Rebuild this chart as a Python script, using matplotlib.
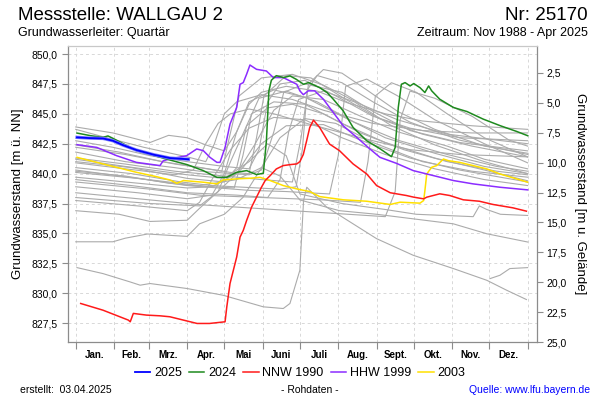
import matplotlib
matplotlib.use("Agg")
import matplotlib.pyplot as plt
from matplotlib.ticker import FixedLocator, NullFormatter

plt.rcParams['font.family'] = ['Liberation Sans', 'DejaVu Sans']

# ---------------- data ----------------
month_labels = ["Jan.", "Feb.", "Mrz.", "Apr.", "Mai", "Juni", "Juli", "Aug.", "Sept.", "Okt.", "Nov.", "Dez."]
month_starts = [0, 31, 59, 90, 120, 151, 181, 212, 243, 273, 304, 334, 365]
ground_level = 850.92

y2025_days = [1, 11, 22, 30, 38, 49, 63, 76, 91]
y2025_vals = [843.03, 842.97, 842.94, 842.75, 842.39, 841.97, 841.58, 841.30, 841.20]

y2024_days = [1, 12, 22, 26, 30, 49, 76, 90, 103, 114, 122, 130, 138, 146, 151.5, 154, 156, 158, 162, 168,
              173, 178, 184, 188, 197, 203, 208, 216, 224, 235, 246, 255, 258, 260.5, 263, 266, 270, 273,
              278, 282, 285, 287.5, 294, 305, 316, 329, 343, 356, 365]
y2024_vals = [843.39, 843.17, 843.03, 843.15, 842.95, 841.92, 841.14, 840.75, 840.25, 839.69, 839.69, 840.11,
              840.25, 839.92, 840.03, 842.75, 846.92, 847.81, 848.19, 848.03, 848.17, 847.89, 847.47, 847.61,
              847.19, 846.78, 846.22, 845.25, 843.86, 842.75, 842.06, 841.42, 842.19, 845.53, 847.47, 847.61,
              847.33, 847.53, 847.19, 846.78, 847.33, 846.92, 846.22, 845.53, 845.19, 844.56, 844.00, 843.53,
              843.17]

nnw1990_days = [4, 22, 42.5, 44, 46.5, 57, 68, 76, 87, 98, 108, 120.6, 122, 124.6, 127.3, 130, 132.7, 135.3,
                138, 142, 146, 150, 153, 157, 162, 167.6, 173, 178.5, 181, 183.8, 186.5, 189, 192, 197, 205,
                213, 224, 235, 243, 254, 267, 273, 281, 283.5, 294, 302, 313, 326, 337, 353, 364]
nnw1990_vals = [829.14, 828.58, 827.75, 827.61, 828.31, 828.17, 828.11, 828.03, 827.75, 827.47, 827.47, 827.61,
                828.86, 830.81, 831.92, 833.03, 834.69, 835.25, 836.08, 837.19, 838.03, 838.86, 839.42, 839.83,
                840.39, 840.67, 840.75, 840.81, 841.00, 841.60, 842.75, 843.86, 844.47, 843.86, 842.47, 841.92,
                840.81, 839.97, 839.00, 838.40, 838.17, 838.03, 837.89, 838.03, 838.31, 838.17, 837.81, 837.69,
                837.42, 837.14, 836.86]

hhw1999_days = [1, 17, 33, 49, 68, 70.7, 76, 89.6, 97.7, 103, 108.4, 114, 116.5, 120.6, 124.6, 130, 132.7,
                135.3, 138, 140.7, 146, 154, 159.6, 167.6, 173, 178.5, 181, 183.8, 187.8, 193, 200, 208, 216,
                227, 237.6, 245.7, 259, 272.6, 289, 305, 321, 342.6, 365]
hhw1999_vals = [842.42, 842.19, 841.50, 840.94, 840.67, 841.08, 841.22, 841.50, 842.06, 841.92, 841.36, 840.94,
                840.94, 842.19, 844.14, 845.53, 847.47, 847.61, 848.31, 849.08, 848.72, 848.58, 848.03, 848.03,
                847.75, 847.47, 846.92, 846.60, 846.92, 846.92, 846.22, 845.11, 844.00, 843.03, 842.06, 841.36,
                840.86, 840.25, 839.83, 839.42, 839.14, 838.86, 838.64]

y2003_days = [1, 22, 49, 65, 76, 81.6, 87, 103, 114, 119, 130, 140.7, 148.8, 157, 167.6, 178.5, 189, 197, 216,
              235, 254, 262, 278, 281, 282, 283.5, 287.5, 291.5, 297, 301, 310, 321, 332, 342.6, 356, 365]
y2003_vals = [841.36, 840.81, 840.11, 839.75, 839.47, 839.19, 839.42, 839.28, 839.14, 839.47, 839.56, 839.61,
              839.69, 839.42, 839.00, 838.72, 838.50, 838.08, 837.81, 837.69, 837.42, 837.61, 837.53, 837.75,
              838.58, 839.97, 840.53, 840.67, 841.22, 841.08, 840.94, 840.67, 840.39, 839.97, 839.56, 839.28]

# other years (grey), (day, value) pairs
gray_01 = [(0, 843.9), (30, 843.4), (60, 842.6), (75, 843.2), (90, 843.0), (105, 842.4), (120, 841.9), (130, 843.5), (140, 845.8), (150, 846.8), (170, 847.3), (195, 846.9), (220, 845.9), (250, 845.0), (280, 844.4), (320, 844.0), (365, 843.7)]
gray_02 = [(0, 843.7), (25, 843.0), (55, 842.2), (90, 841.4), (105, 841.0), (112, 842.5), (120, 845.0), (130, 846.0), (150, 846.6), (175, 846.2), (200, 845.3), (240, 844.2), (280, 843.6), (320, 843.4), (365, 843.4)]
gray_03 = [(0, 842.75), (30, 842.2), (60, 841.5), (90, 841.0), (120, 840.6), (140, 840.4), (148, 842.0), (155, 846.0), (165, 847.5), (185, 847.8), (210, 846.5), (240, 844.8), (270, 843.8), (310, 843.0), (365, 842.75)]
gray_04 = [(0, 842.2), (40, 841.6), (80, 840.8), (100, 840.5), (118, 840.2), (124, 843.0), (132, 846.5), (150, 848.0), (175, 848.3), (200, 847.4), (230, 845.8), (260, 844.5), (300, 843.3), (340, 842.8), (365, 842.5)]
gray_05 = [(0, 841.8), (40, 841.0), (80, 840.5), (100, 840.2), (140, 839.9), (150, 840.3), (160, 843.5), (168, 846.8), (185, 847.5), (215, 846.8), (240, 845.2), (270, 843.6), (310, 842.6), (365, 841.9)]
gray_06 = [(0, 840.9), (40, 840.4), (80, 839.9), (95, 840.3), (105, 842.5), (115, 844.2), (125, 845.0), (140, 845.4), (160, 845.0), (190, 844.1), (230, 843.0), (270, 842.0), (310, 841.6), (365, 841.4)]
gray_07 = [(0, 840.5), (45, 840.0), (85, 839.3), (110, 839.0), (165, 838.7), (178, 838.9), (183, 842.0), (187, 847.0), (195, 848.2), (215, 847.6), (240, 846.0), (270, 844.3), (310, 842.8), (365, 841.6)]
gray_08 = [(0, 840.1), (50, 839.6), (90, 839.0), (140, 838.6), (170, 838.5), (205, 838.3), (212, 841.5), (218, 847.3), (235, 847.9), (260, 846.5), (290, 844.5), (330, 842.5), (365, 840.9)]
gray_09 = [(0, 839.7), (40, 839.3), (90, 838.8), (110, 838.9), (130, 840.0), (145, 842.5), (160, 845.3), (175, 846.5), (200, 846.2), (230, 844.8), (260, 843.5), (300, 842.3), (330, 841.2), (365, 840.4)]
gray_10 = [(0, 839.3), (60, 838.7), (100, 838.2), (150, 838.0), (200, 837.8), (230, 837.6), (236, 841.0), (242, 846.5), (255, 847.6), (275, 846.8), (300, 845.0), (330, 843.0), (365, 841.4)]
gray_11 = [(0, 838.9), (50, 838.4), (90, 837.9), (110, 838.2), (120, 840.0), (130, 843.5), (140, 846.0), (160, 847.0), (185, 846.4), (215, 844.8), (250, 843.0), (290, 841.7), (330, 840.6), (365, 840.0)]
gray_12 = [(0, 838.4), (50, 837.9), (100, 837.4), (160, 837.0), (250, 836.4), (258, 838.5), (262, 844.5), (270, 846.9), (290, 846.3), (320, 844.8), (350, 842.8), (365, 842.3)]
gray_13 = [(0, 838.0), (60, 837.5), (100, 837.3), (115, 838.5), (125, 841.0), (138, 844.0), (155, 845.5), (175, 845.8), (200, 845.0), (230, 843.4), (265, 842.0), (300, 841.0), (340, 840.2), (365, 839.9)]
gray_14 = [(0, 837.75), (50, 837.3), (90, 836.9), (100, 837.6), (110, 839.5), (125, 842.0), (140, 843.8), (160, 844.7), (185, 844.5), (215, 843.0), (250, 841.6), (290, 840.4), (330, 839.5), (365, 839.0)]
gray_15 = [(0, 836.9), (35, 836.6), (60, 836.0), (90, 836.1), (100, 837.1), (115, 838.5), (135, 840.5), (150, 842.5), (170, 844.0), (200, 844.1), (230, 842.8), (270, 841.3), (310, 840.3), (365, 839.3)]
gray_16 = [(0, 834.3), (30, 834.3), (40, 834.6), (58, 834.95), (90, 834.75), (100, 835.8), (120, 836.6), (135, 838.0), (150, 840.5), (165, 843.0), (185, 844.6), (210, 844.2), (240, 842.6), (280, 841.0), (320, 840.2), (365, 839.7)]
gray_17 = [(0, 840.3), (50, 839.6), (100, 839.0), (130, 839.5), (150, 840.5), (165, 839.8), (181, 837.8), (213, 836.9), (243, 836.6), (305, 835.8), (332, 834.97), (365, 834.28)]
gray_18 = [(0, 841.2), (40, 840.6), (90, 839.9), (120, 839.6), (140, 841.0), (155, 842.5), (170, 841.5), (181, 838.3), (215, 837.5), (250, 837.0), (275, 836.6), (321, 836.4), (326, 837.3), (332, 837.0), (343, 836.6), (365, 836.5)]
gray_19 = [(334.6, 831.22), (342.6, 831.5), (350.6, 832.06), (365, 832.14)]
gray_20 = [(1, 832.14), (22, 831.64), (44, 830.94), (52, 830.67), (60, 830.81), (90, 830.39), (119, 829.83), (151.5, 828.86), (167.6, 828.72), (173, 829.14), (181, 831.92), (184, 837.75), (186.6, 838.86), (202.7, 837.19), (243, 834.56), (272.6, 833.17), (305, 832.06), (332, 831.08), (348, 830.25), (364, 829.47)]
gray_21 = [(0, 841.3), (40, 840.8), (80, 840.2), (110, 839.9), (150, 839.5), (175, 839.3), (182, 843.0), (188, 847.5), (200, 848.7), (215, 848.4), (235, 847.0), (260, 845.2), (290, 843.7), (330, 842.3), (365, 841.7)]
gray_22 = [(0, 842.4), (35, 841.8), (70, 841.0), (95, 840.6), (125, 840.1), (140, 840.0), (146, 843.0), (152, 846.5), (170, 848.2), (190, 848.0), (215, 846.4), (245, 844.6), (280, 843.3), (320, 842.3), (365, 841.4)]
gray_23 = [(0, 841.0), (45, 840.5), (90, 839.6), (120, 839.3), (130, 840.5), (138, 844.0), (148, 846.3), (170, 846.9), (195, 846.0), (225, 844.3), (260, 842.8), (300, 841.6), (340, 840.6), (365, 840.2)]
gray_24 = [(0, 840.2), (40, 839.8), (75, 839.2), (95, 839.0), (128, 838.8), (135, 841.5), (142, 845.0), (160, 846.0), (185, 845.8), (215, 844.2), (250, 842.6), (290, 841.3), (330, 840.3), (365, 839.4)]
gray_25 = [(0, 839.5), (45, 839.0), (90, 838.4), (130, 838.2), (155, 838.0), (165, 839.5), (172, 843.5), (180, 846.2), (200, 846.9), (225, 846.0), (255, 844.0), (290, 842.4), (330, 841.0), (365, 840.0)]
gray_lines = [gray_01, gray_02, gray_03, gray_04, gray_05, gray_06, gray_07, gray_08, gray_09, gray_10,
              gray_11, gray_12, gray_13, gray_14, gray_15, gray_16, gray_17, gray_18, gray_19, gray_20,
              gray_21, gray_22, gray_23, gray_24, gray_25]

left_ticks = [827.5, 830.0, 832.5, 835.0, 837.5, 840.0, 842.5, 845.0, 847.5, 850.0]
right_ticks = [2.5, 5.0, 7.5, 10.0, 12.5, 15.0, 17.5, 20.0, 22.5, 25.0]

# ---------------- figure ----------------
W, H = 600, 400
fig = plt.figure(figsize=(6, 4), dpi=100)
fig.patch.set_facecolor('white')

def fx(px):
    return px / W

def fy(py):
    return 1 - py / H

ax = fig.add_axes([fx(67.7), fy(342), fx(536.7) - fx(67.7), fy(46) - fy(342)])
ymin, ymax = 825.92, 850.67
ax.set_xlim(-6.5, 372.3)
ax.set_ylim(ymin, ymax)

grid_kw = dict(color='#d8d8d8', linestyle=(0, (3, 3)), linewidth=0.7, zorder=0)
for v in left_ticks:
    ax.axhline(v, **grid_kw)
for d in month_starts:
    ax.axvline(d, **grid_kw)

for g in gray_lines:
    ax.plot([p[0] for p in g], [p[1] for p in g], color='#ababab', lw=0.8, zorder=2)

h_2003, = ax.plot(y2003_days, y2003_vals, color='#ffe000', lw=1.1, zorder=3, label='2003')
h_1999, = ax.plot(hhw1999_days, hhw1999_vals, color='#8b2cff', lw=1.1, zorder=3, label='HHW 1999')
h_1990, = ax.plot(nnw1990_days, nnw1990_vals, color='#ff1a1a', lw=1.1, zorder=3, label='NNW 1990')
h_2024, = ax.plot(y2024_days, y2024_vals, color='#1e8a1e', lw=1.1, zorder=4, label='2024')
ax.plot(y2025_days, y2025_vals, color='#7f7fff', lw=2.4, zorder=5)
h_2025, = ax.plot(y2025_days, y2025_vals, color='#0000ff', lw=1.3, zorder=6, label='2025')

# axes styling
for s in ax.spines.values():
    s.set_color('#8c8c8c')
    s.set_linewidth(0.9)
ax.spines['top'].set_color('#c8c8c8')

ax.yaxis.set_major_locator(FixedLocator(left_ticks))
ax.set_yticklabels([f"{v:.1f}".replace('.', ',') for v in left_ticks])
ax.tick_params(axis='y', direction='out', length=4, width=0.8, color='#8c8c8c', labelsize=7.5, pad=3)

ax.xaxis.set_major_locator(FixedLocator(month_starts))
ax.xaxis.set_major_formatter(NullFormatter())
centers = [(month_starts[i] + month_starts[i + 1]) / 2 for i in range(12)]
ax.xaxis.set_minor_locator(FixedLocator(centers))
ax.set_xticklabels(month_labels, minor=True)
ax.tick_params(axis='x', which='major', direction='out', length=5, width=0.8, color='#8c8c8c')
ax.tick_params(axis='x', which='minor', length=0, labelsize=7, pad=6)
for lab in ax.get_xticklabels(minor=True):
    lab.set_fontweight('bold')

ax2 = ax.twinx()
ax2.set_ylim(ground_level - ymin, ground_level - ymax)
ax2.yaxis.set_major_locator(FixedLocator(right_ticks))
ax2.set_yticklabels([f"{v:.1f}".replace('.', ',') for v in right_ticks])
ax2.tick_params(axis='y', direction='out', length=4, width=0.8, color='#8c8c8c', labelsize=7.5, pad=3)
for s in ax2.spines.values():
    s.set_visible(False)

ax.set_ylabel("Grundwasserstand [m ü. NN]", fontsize=9.5, labelpad=6)
ax2.set_ylabel("Grundwasserstand [m u. Gelände]", fontsize=9.5, rotation=270, labelpad=14)

# titles
fig.text(fx(18), fy(15), "Messstelle: WALLGAU 2", fontsize=13.5, ha='left', va='center')
fig.text(fx(588), fy(15), "Nr: 25170", fontsize=13.5, ha='right', va='center')
fig.text(fx(18), fy(33), "Grundwasserleiter: Quartär", fontsize=9, ha='left', va='center')
fig.text(fx(588), fy(33), "Zeitraum: Nov 1988 - Apr 2025", fontsize=9, ha='right', va='center')

# legend
fig.legend(handles=[h_2025, h_2024, h_1990, h_1999, h_2003], loc='center',
           bbox_to_anchor=(fx(300), fy(373)), ncol=5, frameon=False, fontsize=9,
           handlelength=1.25, handletextpad=0.3, columnspacing=0.55)

# footer
fig.text(fx(20), fy(390), "erstellt:  03.04.2025", fontsize=7.5, ha='left', va='center')
fig.text(fx(310), fy(390), "- Rohdaten -", fontsize=7.5, ha='center', va='center')
fig.text(fx(590), fy(390), "Quelle: www.lfu.bayern.de", fontsize=7.5, ha='right', va='center', color='#0000ff')

fig.savefig("out.png", dpi=100, facecolor='white')
